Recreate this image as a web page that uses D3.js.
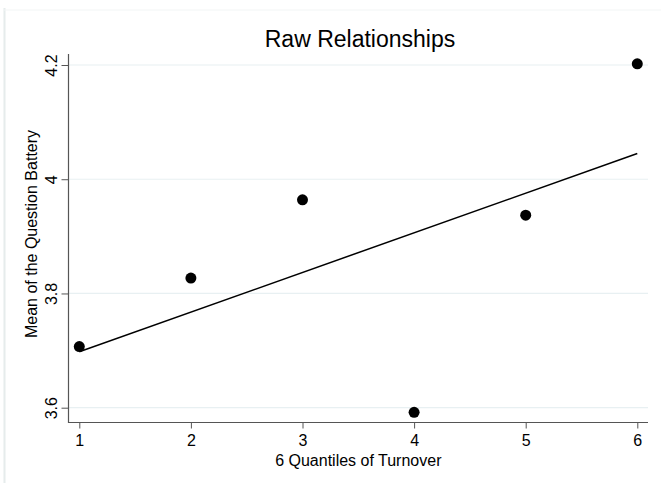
<!DOCTYPE html>
<html>
<head>
<meta charset="utf-8">
<script src="https://cdn.jsdelivr.net/npm/d3@7"></script>
<style>
  body { margin: 0; background: #fff; }
  text { font-family: "Liberation Sans", Arial, Helvetica, sans-serif; fill: #000; }
</style>
</head>
<body>
<div id="chart"></div>
<script>
// values
var quantiles = [1, 2, 3, 4, 5, 6];
var meanScores = [3.707, 3.827, 3.964, 3.592, 3.937, 4.202];
var fitX = [1, 6];
var fitY = [3.698, 4.045];
var xTicks = [1, 2, 3, 4, 5, 6];
var yTicks = [3.6, 3.8, 4, 4.2];

var width = 661, height = 483;
var plot = { left: 68.5, right: 648, top: 54, bottom: 422.5 };

var svg = d3.select("#chart").append("svg")
    .attr("width", width)
    .attr("height", height);

// faint outer frame like the stata graph region
svg.append("line")
    .attr("x1", 4.5).attr("x2", 4.5).attr("y1", 8).attr("y2", height)
    .attr("stroke", "#e6ecec").attr("stroke-width", 2);
svg.append("line")
    .attr("x1", 4).attr("x2", width).attr("y1", 10).attr("y2", 10)
    .attr("stroke", "#f2f5f5").attr("stroke-width", 1);

var x = d3.scaleLinear().domain([1, 6]).range([79.3, 637.3]);
var y = d3.scaleLinear().domain([3.6, 4.2]).range([407.7, 65]);

// grid lines
svg.append("g")
    .selectAll("line")
    .data(yTicks)
    .enter().append("line")
    .attr("x1", plot.left).attr("x2", plot.right)
    .attr("y1", function (d) { return y(d); })
    .attr("y2", function (d) { return y(d); })
    .attr("stroke", "#e8f0f2")
    .attr("stroke-width", 1.2);

// y axis
var yAxis = svg.append("g")
    .attr("transform", "translate(" + plot.left + ",0)")
    .call(d3.axisLeft(y).tickValues(yTicks).tickSize(7).tickFormat(function (d) { return String(d); }));
yAxis.select(".domain").remove();
yAxis.selectAll(".tick line").attr("stroke", "#555");
yAxis.selectAll(".tick text")
    .attr("x", 0)
    .attr("y", -11.5)
    .attr("dy", null)
    .attr("transform", "rotate(-90)")
    .style("text-anchor", "middle")
    .attr("font-size", 16)
    .attr("fill", "#000");
svg.append("line")
    .attr("x1", plot.left).attr("x2", plot.left)
    .attr("y1", plot.top).attr("y2", plot.bottom + 0.5)
    .attr("stroke", "#555").attr("stroke-width", 1.2);

// x axis
var xAxis = svg.append("g")
    .attr("transform", "translate(0," + plot.bottom + ")")
    .call(d3.axisBottom(x).tickValues(xTicks).tickSize(6).tickFormat(d3.format("d")));
xAxis.select(".domain").remove();
xAxis.selectAll(".tick line").attr("stroke", "#555");
xAxis.selectAll(".tick text")
    .attr("y", 23.5)
    .attr("dy", null)
    .attr("font-size", 16)
    .attr("fill", "#000");
svg.append("line")
    .attr("x1", plot.left - 0.5).attr("x2", plot.right)
    .attr("y1", plot.bottom).attr("y2", plot.bottom)
    .attr("stroke", "#555").attr("stroke-width", 1.2);

// fitted line
var line = d3.line()
    .x(function (d) { return x(d[0]); })
    .y(function (d) { return y(d[1]); });
svg.append("path")
    .datum(d3.zip(fitX, fitY))
    .attr("d", line)
    .attr("fill", "none")
    .attr("stroke", "#000")
    .attr("stroke-width", 1.5);

// points
svg.append("g")
    .selectAll("circle")
    .data(d3.zip(quantiles, meanScores))
    .enter().append("circle")
    .attr("cx", function (d) { return x(d[0]); })
    .attr("cy", function (d) { return y(d[1]); })
    .attr("r", 5.5)
    .attr("fill", "#000");

// titles
svg.append("text")
    .attr("x", 360).attr("y", 46.5)
    .attr("text-anchor", "middle")
    .attr("font-size", 23)
    .text("Raw Relationships");

svg.append("text")
    .attr("x", 358.3).attr("y", 466)
    .attr("text-anchor", "middle")
    .attr("font-size", 16)
    .text("6 Quantiles of Turnover");

svg.append("text")
    .attr("transform", "translate(37,234) rotate(-90)")
    .attr("text-anchor", "middle")
    .attr("font-size", 16)
    .text("Mean of the Question Battery");
</script>
</body>
</html>
